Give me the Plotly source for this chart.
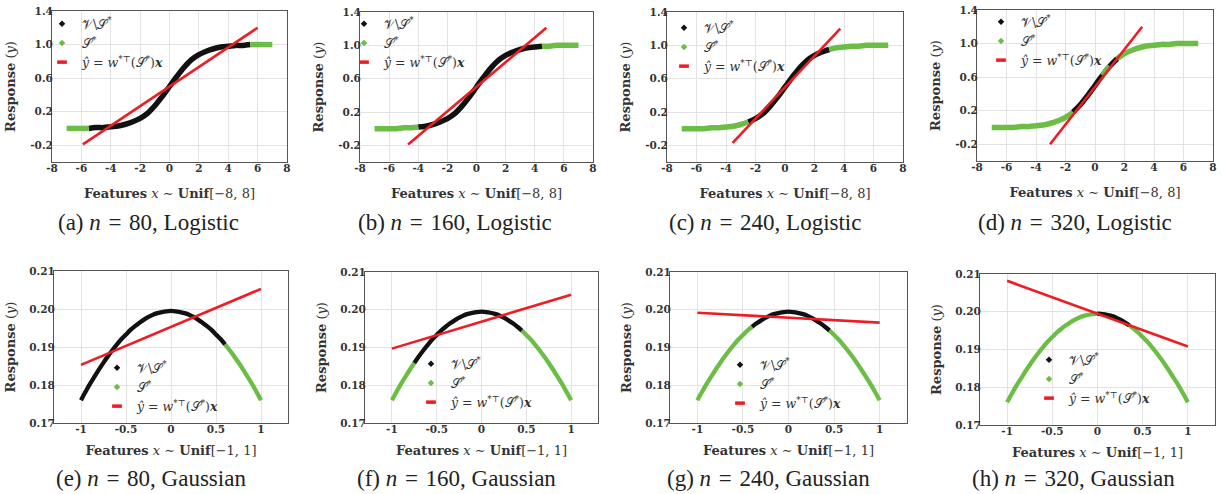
import plotly.graph_objects as go

# ------------------------------------------------------------------ data
# Logistic response curve read from the top row (x, y)
logistic_x = [-7.0, -6.5, -6.0, -5.5, -5.0, -4.5, -4.0, -3.5, -3.0, -2.5, -2.0, -1.5, -1.0, -0.5,
              0.0, 0.5, 1.0, 1.5, 2.0, 2.5, 3.0, 3.5, 4.0, 4.5, 5.0, 5.5, 6.0, 6.5, 7.0]
logistic_y = [0.00, 0.00, 0.00, 0.00, 0.01, 0.01, 0.02, 0.03, 0.05, 0.08, 0.12, 0.18, 0.27, 0.38,
              0.50, 0.62, 0.73, 0.82, 0.88, 0.92, 0.95, 0.97, 0.98, 0.99, 0.99, 1.00, 1.00, 1.00, 1.00]

# Gaussian response curve read from the bottom row (x, y)
gauss_x = [-1.0, -0.95, -0.9, -0.85, -0.8, -0.75, -0.7, -0.65, -0.6, -0.55, -0.5, -0.45, -0.4,
           -0.35, -0.3, -0.25, -0.2, -0.15, -0.1, -0.05, 0.0, 0.05, 0.1, 0.15, 0.2, 0.25, 0.3,
           0.35, 0.4, 0.45, 0.5, 0.55, 0.6, 0.65, 0.7, 0.75, 0.8, 0.85, 0.9, 0.95, 1.0]
gauss_y = [0.1760, 0.1782, 0.1803, 0.1822, 0.1841, 0.1859, 0.1876, 0.1892, 0.1907, 0.1921, 0.1933,
           0.1945, 0.1955, 0.1964, 0.1972, 0.1979, 0.1985, 0.1989, 0.1992, 0.1994, 0.1995, 0.1994,
           0.1992, 0.1989, 0.1985, 0.1979, 0.1972, 0.1964, 0.1955, 0.1945, 0.1933, 0.1921, 0.1907,
           0.1892, 0.1876, 0.1859, 0.1841, 0.1822, 0.1803, 0.1782, 0.1760]

panel_letters = ["a", "b", "c", "d", "e", "f", "g", "h"]
sample_sizes = [80, 160, 240, 320, 80, 160, 240, 320]
model_names = ["Logistic"] * 4 + ["Gaussian"] * 4

# x-ranges of the V\S* (black) and S* (green) points in each panel
black_ranges = [
    [(-5.5, 5.5)], [(-4.0, 4.5)], [(-2.5, 3.0)], [(-1.5, 1.5)],
    [(-1.0, 0.6)], [(-0.75, 0.45)], [(-0.4, 0.45)], [(0.0, 0.35)],
]
green_ranges = [
    [(-7.0, -5.5), (5.5, 7.0)], [(-7.0, -4.0), (4.5, 7.0)], [(-7.0, -2.5), (3.0, 7.0)],
    [(-7.0, -1.5), (0.5, 1.0), (1.5, 7.0)],
    [(0.6, 1.0)], [(-1.0, -0.75), (0.45, 1.0)], [(-1.0, -0.4), (0.45, 1.0)], [(-1.0, 1.0)],
]

# fitted linear model end points
fit_x = [[-5.9, 6.0], [-4.7, 4.8], [-3.55, 3.75], [-3.05, 3.2],
         [-1.0, 1.0], [-1.0, 1.0], [-1.0, 1.0], [-1.0, 1.0]]
fit_y = [[-0.19, 1.20], [-0.19, 1.21], [-0.17, 1.20], [-0.20, 1.20],
         [0.1853, 0.2053], [0.1897, 0.2040], [0.1992, 0.1966], [0.2082, 0.1908]]

top_xticks = [-8, -6, -4, -2, 0, 2, 4, 6, 8]
top_xticktext = ["-8", "-6", "-4", "-2", "0", "2", "4", "6", "8"]
top_yticks = [-0.2, 0.2, 0.6, 1.0, 1.4]
top_yticktext = ["-0.2", "0.2", "0.6", "1.0", "1.4"]
bot_xticks = [-1, -0.5, 0, 0.5, 1]
bot_xticktext = ["-1", "-0.5", "0", "0.5", "1"]
bot_yticks = [0.17, 0.18, 0.19, 0.20, 0.21]
bot_yticktext = ["0.17", "0.18", "0.19", "0.20", "0.21"]

# ------------------------------------------------------------------ layout geometry (pixels)
W, H = 1222, 494
plot_px = [  # left, right, top, bottom
    (52, 287, 11, 162), (360, 593, 12, 162), (667, 903, 12, 162), (977, 1213, 10, 161),
    (54, 288, 271, 423), (365, 598, 272, 423), (670, 907, 272, 423), (980, 1215, 274, 425),
]
legend_px = [(64, 24), (366, 24), (686, 28), (1003, 22),
             (119, 368), (433, 364), (742, 365), (1051, 360)]
caption_px = [(148, 222), (455, 222), (765, 222), (1075, 222),
              (151, 478), (456, 478), (768, 478), (1073, 478)]

BLACK = "#111111"
GREEN = "#6cbd45"
RED = "#ee1c25"
SERIF = "Liberation Serif"
BOLDSERIF = "DejaVu Serif"
EN = "\u2002"
SP3 = "\u2004"

LBL_V = "𝒱\\𝒮<sup>*</sup>"
LBL_S = "𝒮<sup>*</sup>"
LBL_FIT = "<i>ŷ</i> = <i>w</i><sup>*⊤</sup>(𝒮<sup>*</sup>)<b><i>x</i></b>"


def pick(xs, ys, lo, hi):
    sx, sy = [], []
    for x, y in zip(xs, ys):
        if lo - 1e-9 <= x <= hi + 1e-9:
            sx.append(x)
            sy.append(y)
    return sx, sy


fig = go.Figure()
layout = dict(
    width=W, height=H, margin=dict(l=0, r=0, t=0, b=0, autoexpand=False),
    paper_bgcolor="white", plot_bgcolor="white", showlegend=True,
    font=dict(family=SERIF, color="#333333"),
    annotations=[],
)

for i in range(8):
    top = i < 4
    k = i + 1
    xa = "x" if k == 1 else f"x{k}"
    ya = "y" if k == 1 else f"y{k}"
    lg = "legend" if k == 1 else f"legend{k}"
    xs, ys = (logistic_x, logistic_y) if top else (gauss_x, gauss_y)
    width = 5.5 if top else 4.3

    layers = [("black", black_ranges[i]), ("green", green_ranges[i])]
    if not top:
        layers = layers[::-1]
    for name, ranges in layers:
        col = BLACK if name == "black" else GREEN
        for lo, hi in ranges:
            sx, sy = pick(xs, ys, lo, hi)
            fig.add_trace(go.Scatter(x=sx, y=sy, mode="lines", line=dict(color=col, width=width, shape="spline"),
                                     xaxis=xa, yaxis=ya, showlegend=False, hoverinfo="skip"))
    fig.add_trace(go.Scatter(x=fit_x[i], y=fit_y[i], mode="lines", line=dict(color=RED, width=2.6),
                             xaxis=xa, yaxis=ya, showlegend=False, hoverinfo="skip"))
    # legend entries
    fig.add_trace(go.Scatter(x=[None], y=[None], mode="markers", name=LBL_V, legend=lg,
                             marker=dict(symbol="diamond", size=5, color=BLACK), xaxis=xa, yaxis=ya))
    fig.add_trace(go.Scatter(x=[None], y=[None], mode="markers", name=LBL_S, legend=lg,
                             marker=dict(symbol="diamond", size=5, color=GREEN), xaxis=xa, yaxis=ya))
    fig.add_trace(go.Scatter(x=[None], y=[None], mode="markers", name=LBL_FIT, legend=lg,
                             marker=dict(symbol="line-ew", size=7, color=RED, line=dict(color=RED, width=3.5)),
                             xaxis=xa, yaxis=ya))

    l, r, t, b = plot_px[i]
    axis_common = dict(showline=True, linecolor="#555555", linewidth=1, mirror=True, showgrid=True,
                       gridcolor="#e3e3e3", gridwidth=1, zeroline=False, ticks="",
                       tickfont=dict(family=BOLDSERIF, size=10.5, color="#333333", weight="bold"))
    if top:
        xr, xt, xtt = [-8, 8], top_xticks, top_xticktext
        yr, yt, ytt = [-0.4, 1.4], top_yticks, top_yticktext
        xtitle = "<b>Features</b> <i>x</i> ∼ <b>Unif</b>[−8, 8]"
        xstand, ystand = 16, 11
    else:
        xr, xt, xtt = [-1.3, 1.3], bot_xticks, bot_xticktext
        yr, yt, ytt = [0.17, 0.21], bot_yticks, bot_yticktext
        xtitle = "<b>Features</b> <i>x</i> ∼ <b>Unif</b>[−1, 1]"
        xstand, ystand = 12, 10
    layout["xaxis" if k == 1 else f"xaxis{k}"] = dict(
        axis_common, domain=[l / W, r / W], anchor=ya, range=xr, tickvals=xt, ticktext=xtt,
        ticklabelstandoff=-4,
        title=dict(text=xtitle, font=dict(family=BOLDSERIF, size=13, color="#333333"), standoff=xstand))
    layout["yaxis" if k == 1 else f"yaxis{k}"] = dict(
        axis_common, domain=[1 - b / H, 1 - t / H], anchor=xa, range=yr, tickvals=yt, ticktext=ytt,
        ticklabelstandoff=-4,
        title=dict(text="<b>Response</b> (<i>y</i>)", font=dict(family=BOLDSERIF, size=13, color="#333333"),
                   standoff=ystand))
    mx, my = legend_px[i]
    layout[lg] = dict(x=(mx - 22) / W, y=1 - (my - 15) / H, xanchor="left", yanchor="top",
                      bgcolor="rgba(0,0,0,0)", font=dict(family=BOLDSERIF, size=12.5, color="#333333"),
                      itemwidth=30, tracegroupgap=0)
    cx, cy = caption_px[i]
    layout["annotations"].append(dict(
        x=cx / W, y=1 - cy / H, xref="paper", yref="paper", showarrow=False,
        text=f"({panel_letters[i]}) <i>n</i>{SP3}={SP3}{sample_sizes[i]}, {model_names[i]}",
        font=dict(family=SERIF, size=23, color="#222222"), xanchor="center", yanchor="middle"))

fig.update_layout(**layout)
fig.write_html("out.html", config={"displayModeBar": False},
               post_script="document.body.style.margin='0';document.body.style.padding='0';")
